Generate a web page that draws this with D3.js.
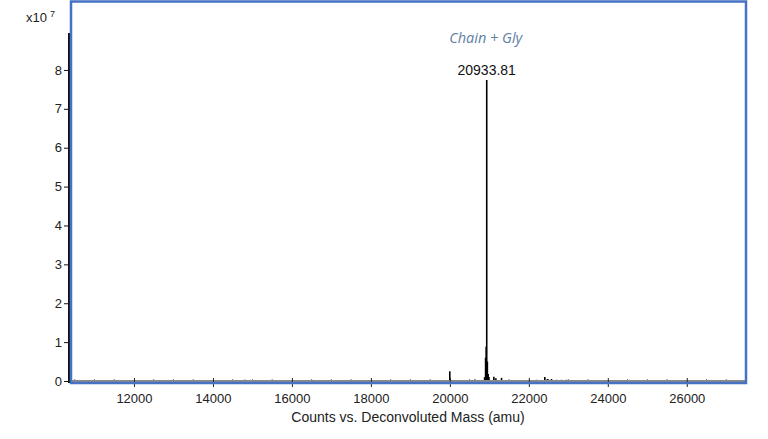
<!DOCTYPE html>
<html>
<head>
<meta charset="utf-8">
<script src="https://cdn.jsdelivr.net/npm/d3@7"></script>
<style>
  body { margin: 0; background: #fff; }
  text { font-family: "Liberation Sans", Arial, sans-serif; }
</style>
</head>
<body>
<div id="chart"></div>
<script>
var svgWidth = 768;
var svgHeight = 439;

// deconvoluted spectrum sticks: mass (amu) and counts (x10^7)
var masses = [14810, 19998, 20633, 20880, 20905, 20920, 20933.81, 20950, 20970, 20990, 21114, 21165, 21309, 22194, 22405, 22470, 22574, 22700, 22828, 22954];
var counts = [0.03, 0.25, 0.04, 0.1, 0.6, 0.88, 7.74, 0.5, 0.18, 0.1, 0.11, 0.07, 0.08, 0.03, 0.1, 0.05, 0.05, 0.03, 0.03, 0.03];

var xTicks = [12000, 14000, 16000, 18000, 20000, 22000, 24000, 26000];
var yTicks = [0, 1, 2, 3, 4, 5, 6, 7, 8];

var peakLabel = "20933.81";
var peakName = "Chain + Gly";

var svg = d3.select("#chart")
  .append("svg")
  .attr("width", svgWidth)
  .attr("height", svgHeight);

var xScale = d3.scaleLinear()
  .domain([10380, 27500])
  .range([70, 746]);

var yScale = d3.scaleLinear()
  .domain([0, 8.95])
  .range([381, 33]);

// minor ticks every 500 amu along the baseline
var minor = d3.range(10500, 27500, 500).filter(d => d % 2000 !== 0);
svg.append("g")
  .selectAll("line")
  .data(minor)
  .enter()
  .append("line")
  .attr("x1", d => xScale(d))
  .attr("x2", d => xScale(d))
  .attr("y1", 381)
  .attr("y2", 379)
  .attr("stroke", "#777")
  .attr("stroke-width", 1);

// spectrum sticks
svg.append("g")
  .selectAll("line")
  .data(masses)
  .enter()
  .append("line")
  .attr("x1", d => xScale(d))
  .attr("x2", d => xScale(d))
  .attr("y1", yScale(0))
  .attr("y2", (d, i) => yScale(counts[i]))
  .attr("stroke", "#000")
  .attr("stroke-width", 1.6);

// baseline
svg.append("line")
  .attr("x1", 70).attr("x2", 746)
  .attr("y1", 381).attr("y2", 381)
  .attr("stroke", "#8a8a8a")
  .attr("stroke-width", 2);

// x axis
var xAxis = svg.append("g")
  .attr("transform", "translate(0, 382)")
  .call(d3.axisBottom(xScale).tickValues(xTicks).tickFormat(d3.format("d")).tickSize(9).tickPadding(3));
xAxis.select(".domain").remove();
xAxis.selectAll(".tick line").attr("transform", "translate(0,-4)").attr("stroke", "#222");
xAxis.selectAll("text").attr("font-size", 13).attr("fill", "#222");

// y axis
var yAxis = svg.append("g")
  .attr("transform", "translate(69, 0)")
  .call(d3.axisLeft(yScale).tickValues(yTicks).tickSize(5).tickPadding(2));
yAxis.select(".domain").attr("stroke", "#111").attr("stroke-width", 2)
  .attr("d", "M0," + yScale(8.95) + "V383");
yAxis.selectAll(".tick line").attr("stroke", "#111");
yAxis.selectAll("text").attr("font-size", 13).attr("fill", "#222");

// selection frame
svg.append("rect")
  .attr("x", 71)
  .attr("y", 1.5)
  .attr("width", 675)
  .attr("height", 381.5)
  .attr("fill", "none")
  .attr("stroke", "#4472c4")
  .attr("stroke-width", 2.5);

// exponent label
var expo = svg.append("text")
  .attr("x", 26)
  .attr("y", 22)
  .attr("font-size", 13)
  .attr("fill", "#222");
expo.append("tspan").text("x10");
expo.append("tspan").attr("dx", 3).attr("dy", -5).attr("font-size", 9).text("7");

// peak annotations
svg.append("text")
  .attr("x", xScale(20933.81))
  .attr("y", 75)
  .attr("text-anchor", "middle")
  .attr("font-size", 14)
  .attr("fill", "#111")
  .text(peakLabel);

svg.append("text")
  .attr("x", xScale(20933.81) - 1)
  .attr("y", 43)
  .attr("text-anchor", "middle")
  .attr("font-size", 14.5)
  .attr("font-style", "italic")
  .attr("fill", "#5f7fa3")
  .style("font-family", "'Open Sans', sans-serif")
  .text(peakName);

// x axis title
svg.append("text")
  .attr("x", 408)
  .attr("y", 422)
  .attr("text-anchor", "middle")
  .attr("font-size", 14)
  .attr("fill", "#222")
  .text("Counts vs. Deconvoluted Mass (amu)");
</script>
</body>
</html>
